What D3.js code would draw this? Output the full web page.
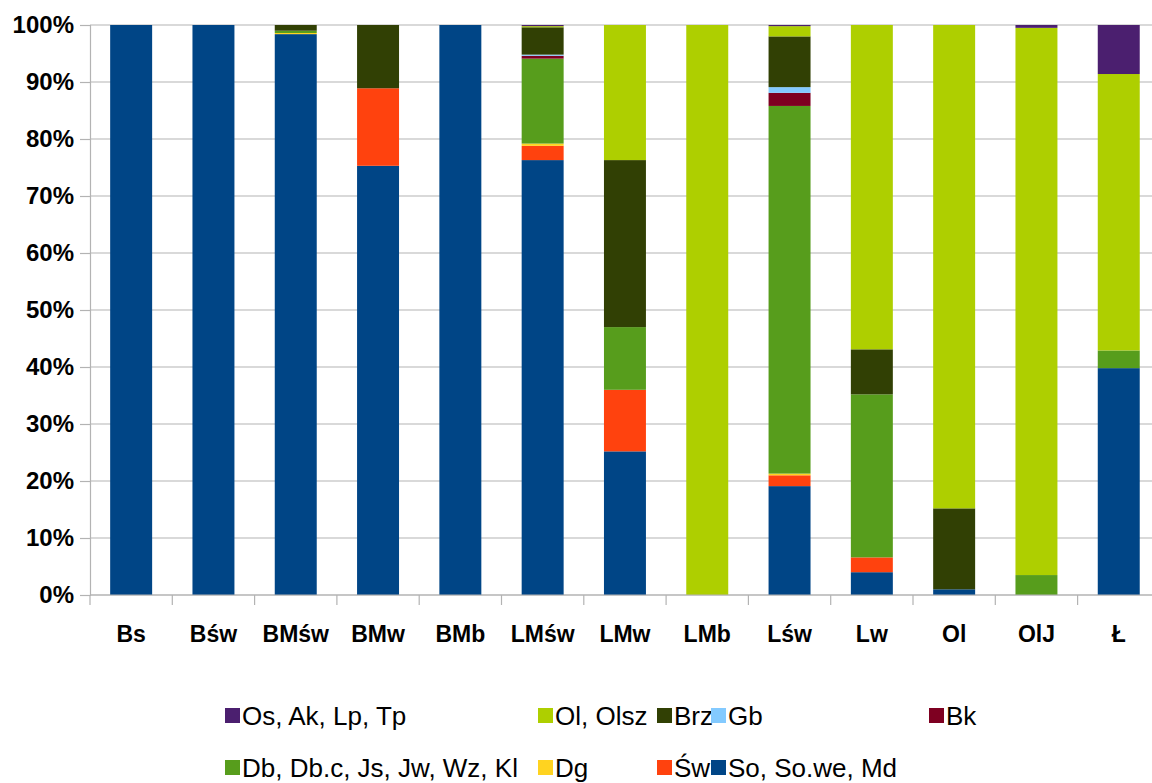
<!DOCTYPE html>
<html><head><meta charset="utf-8">
<script src="https://cdn.jsdelivr.net/npm/d3@7/dist/d3.min.js"></script>
<style>body{margin:0;background:#fff}svg{display:block}text{font-family:"Liberation Sans",Arial,sans-serif}</style>
</head><body>
<svg id="chart" width="1152" height="783"></svg>
<script>
const categories = ["Bs","Bśw","BMśw","BMw","BMb","LMśw","LMw","LMb","Lśw","Lw","Ol","OlJ","Ł"];
const seriesNames = ["So, So.we, Md","Św","Dg","Db, Db.c, Js, Jw, Wz, Kl","Bk","Gb","Brz","Ol, Olsz","Os, Ak, Lp, Tp"];
const seriesColors = ["#004586","#ff420e","#ffd320","#579d1c","#7e0021","#83caff","#314004","#aecf00","#4b1f6f"];
const So  = [100, 100, 98.4, 75.3, 100, 76.3, 25.2, 0, 19.1, 4.0, 1.0, 0, 39.8];
const Sw  = [0, 0, 0, 13.6, 0, 2.5, 10.8, 0, 1.9, 2.6, 0, 0, 0];
const Dg  = [0, 0, 0.2, 0, 0, 0.4, 0, 0, 0.3, 0, 0, 0, 0];
const Db  = [0, 0, 0.4, 0, 0, 14.9, 11.0, 0, 64.5, 28.6, 0, 3.5, 3.1];
const Bk  = [0, 0, 0, 0, 0, 0.5, 0, 0, 2.3, 0, 0, 0, 0];
const Gb  = [0, 0, 0, 0, 0, 0.2, 0, 0, 1.0, 0, 0, 0, 0];
const Brz = [0, 0, 1.0, 11.1, 0, 4.8, 29.3, 0, 8.9, 7.9, 14.2, 0, 0];
const Ol  = [0, 0, 0, 0, 0, 0.2, 23.7, 100, 1.8, 56.9, 84.8, 96.0, 48.5];
const Os  = [0, 0, 0, 0, 0, 0.2, 0, 0, 0.2, 0, 0, 0.5, 8.6];
const seriesValues = [So, Sw, Dg, Db, Bk, Gb, Brz, Ol, Os];
const yTicks = [0,10,20,30,40,50,60,70,80,90,100];
const yTickLabels = ["0%","10%","20%","30%","40%","50%","60%","70%","80%","90%","100%"];
const legendOrder = [8,7,6,5,4,3,2,1,0];

const svg = d3.select("#chart");
const pLeft = 90, pRight = 90 + 13*82.3, pTop = 25, pBottom = 595;
const x = d3.scaleBand().domain(categories).range([pLeft, pRight]).paddingInner(0.49).paddingOuter(0.245);
const y = d3.scaleLinear().domain([0,100]).range([pBottom, pTop]);
const grey = "#b3b3b3";

svg.append("g").selectAll("line").data(yTicks).join("line")
  .attr("x1", pLeft).attr("x2", pRight).attr("y1", d=>y(d)).attr("y2", d=>y(d))
  .attr("stroke", grey).attr("stroke-width", 1.2);

const rows = categories.map((c,i)=>{const o={cat:c}; seriesNames.forEach((s,j)=>o[s]=seriesValues[j][i]); return o;});
const stack = d3.stack().keys(seriesNames)(rows);
svg.append("g").selectAll("g").data(stack).join("g")
  .attr("fill", (d,i)=>seriesColors[i])
  .selectAll("rect").data(d=>d.filter(p=>p[1]-p[0]>0)).join("rect")
  .attr("x", d=>x(d.data.cat)).attr("width", x.bandwidth())
  .attr("y", d=>y(d[1])).attr("height", d=>y(d[0])-y(d[1]));

const yAxis = d3.axisLeft(y).tickValues(yTicks).tickFormat((d,i)=>yTickLabels[i]).tickSize(10).tickPadding(6);
const gy = svg.append("g").attr("transform",`translate(${pLeft},0)`).call(yAxis);
gy.select(".domain").attr("stroke", grey).attr("stroke-width",1.2);
gy.selectAll(".tick line").attr("stroke", grey).attr("stroke-width",1.2);
gy.selectAll("text").attr("font-size", 24).attr("font-weight","bold").attr("fill","#000")
  .style("font-family","'Liberation Sans',Arial,sans-serif");

const bounds = d3.range(categories.length+1).map(i=>pLeft + i*x.step());
svg.append("line").attr("x1",pLeft).attr("x2",pRight).attr("y1",pBottom).attr("y2",pBottom).attr("stroke",grey).attr("stroke-width",1.2);
svg.append("g").selectAll("line").data(bounds).join("line")
  .attr("x1",d=>d).attr("x2",d=>d).attr("y1",pBottom).attr("y2",pBottom+10).attr("stroke",grey).attr("stroke-width",1.2);
svg.append("g").selectAll("text").data(categories).join("text")
  .attr("x", d=>x(d)+x.bandwidth()/2).attr("y", 642).attr("text-anchor","middle")
  .attr("font-size",23).attr("font-weight","bold").attr("fill","#000").text(d=>d);

const colX = [225, 538, 657, 711, 929];
const rowY = [716, 768];
const lg = svg.append("g");
legendOrder.forEach((si,k)=>{
  const r = Math.floor(k/5), c = k%5;
  const gx = colX[c], gyy = rowY[r];
  lg.append("rect").attr("x",gx).attr("y",gyy-8).attr("width",15).attr("height",15).attr("fill",seriesColors[si]);
  lg.append("text").attr("x",gx+17).attr("y",gyy+9).attr("font-size",26).attr("fill","#000").text(seriesNames[si]);
});
</script>
</body></html>
